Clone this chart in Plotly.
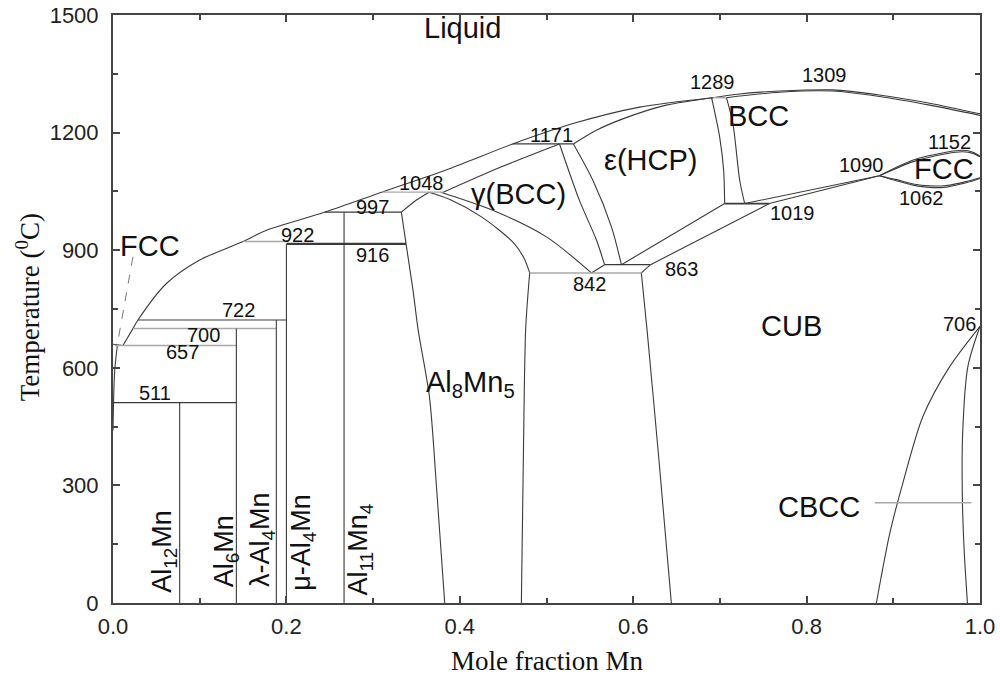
import plotly.graph_objects as go

# ---------------- data: phase boundaries (X = mole fraction Mn, T in deg C) ----------------
liq_al_x = [0.0, 0.0115]
liq_al_t = [660, 657]
liquidus_x = [0.0115, 0.023, 0.0288, 0.0616, 0.100, 0.150, 0.177, 0.244, 0.310, 0.388, 0.461, 0.5306, 0.6075, 0.692]
liquidus_t = [657, 700, 722, 815, 875, 922, 951, 997, 1048, 1108, 1171, 1223, 1265, 1289]
bcc_liq_x = [0.692, 0.720, 0.769, 0.830, 0.884, 0.942, 1.0]
bcc_liq_t = [1289, 1298, 1306, 1309, 1296, 1275, 1248]
bcc_sol_x = [0.7075, 0.769, 0.830, 0.884, 0.942, 1.0]
bcc_sol_t = [1289, 1303, 1306, 1292, 1270, 1244]
eps_sol_x = [0.531, 0.5575, 0.588, 0.638, 0.692]
eps_sol_t = [1171, 1206, 1235, 1270, 1289]
gam_sol_x = [0.381, 0.446, 0.515]
gam_sol_t = [1048, 1111, 1171]
al8_top_x = [0.3326, 0.350, 0.3645]
al8_top_t = [997, 1028, 1048]
al8_left_x = [0.3326, 0.338, 0.346, 0.352, 0.365, 0.373, 0.3826]
al8_left_t = [997, 916, 798, 696, 526, 300, 0]
al8_right_hi_x = [0.3645, 0.388, 0.425, 0.461, 0.474, 0.4806]
al8_right_hi_t = [1048, 1030, 985, 921, 880, 842]
al8_right_lo_x = [0.4806, 0.476, 0.4735, 0.471]
al8_right_lo_t = [842, 700, 400, 0]
gam_low_x = [0.378, 0.438, 0.500, 0.5518]
gam_low_t = [1048, 1002, 934, 842]
gam_eps_x = [0.515, 0.538, 0.5576, 0.567]
gam_eps_t = [1171, 1027, 926, 863]
eps_gam_x = [0.531, 0.5536, 0.575, 0.5864]
eps_gam_t = [1171, 1078, 959, 863]
gam_842_x = [0.567, 0.5518]
gam_842_t = [863, 842]
cub_842_x = [0.620, 0.6094]
cub_842_t = [863, 842]
cub_left_x = [0.6094, 0.616, 0.630, 0.644]
cub_left_t = [842, 696, 357, 0]
eps_low_x = [0.5864, 0.7055]
eps_low_t = [863, 1019]
cub_up_x = [0.620, 0.757]
cub_up_t = [863, 1019]
cub_1090_x = [0.757, 0.884]
cub_1090_t = [1019, 1090]
bcc_low_x = [0.7286, 0.884]
bcc_low_t = [1019, 1090]
eps_bcc_x = [0.6904, 0.6997, 0.7043, 0.7055]
eps_bcc_t = [1289, 1189, 1104, 1019]
bcc_eps_x = [0.7075, 0.715, 0.7228, 0.7286]
bcc_eps_t = [1289, 1223, 1079, 1019]
fcc_up_x = [0.884, 0.923, 0.961, 0.980, 0.992, 1.0]
fcc_up_out_t = [1090, 1130, 1150, 1155, 1150, 1140]
fcc_up_in_t = [1090, 1126, 1146, 1151, 1147, 1138]
fcc_lo_x = [0.884, 0.9036, 0.923, 0.942, 0.961, 0.984, 1.0]
fcc_lo_out_t = [1090, 1077, 1066, 1060, 1061, 1072, 1083]
fcc_lo_in_t = [1090, 1080, 1069, 1064, 1065, 1075, 1085]
cbcc_left_x = [1.0, 0.965, 0.934, 0.911, 0.896, 0.8805]
cbcc_left_t = [706, 603, 475, 306, 178, 0]
cbcc_right_x = [1.0, 0.986, 0.980, 0.9797, 0.9817, 0.9855]
cbcc_right_t = [706, 603, 433, 263, 136, 0]
al_solvus_x = [0.005, 0.002, 0.0008, 0.0]
al_solvus_t = [657, 594, 526, 440]

# invariant (horizontal) reactions
inv_t = [1289, 1171, 1048, 997, 922, 916, 722, 700, 657, 511, 863, 842, 1019]
inv_x0 = [0.692, 0.461, 0.310, 0.244, 0.150, 0.200, 0.0288, 0.023, 0.002, 0.0, 0.567, 0.4806, 0.7055]
inv_x1 = [0.7075, 0.531, 0.381, 0.3326, 0.200, 0.338, 0.200, 0.1884, 0.1423, 0.1423, 0.620, 0.6094, 0.757]
inv_gray = [True, False, True, False, True, False, False, True, True, False, False, True, False]
inv_width = [1.5, 1.2, 1.3, 1.2, 1.5, 2.2, 1.2, 1.5, 1.5, 1.2, 1.2, 1.5, 1.8]

# stoichiometric compounds (vertical lines)
comp_x = [0.0769, 0.1423, 0.1884, 0.200, 0.2665]
comp_top = [511, 700, 722, 916, 997]

# pointer lines
fcc_ptr_x = [0.023, 0.005]
fcc_ptr_t = [883, 660]
cbcc_ptr_x = [0.8785, 0.99]
cbcc_ptr_t = [256, 256]

# labels
region_labels = ["Liquid", "BCC", "ε(HCP)", "γ(BCC)", "FCC", "FCC", "CUB", "CBCC", "Al<sub>8</sub>Mn<sub>5</sub>"]
region_x = [0.4026, 0.744, 0.620, 0.468, 0.958, 0.0423, 0.7826, 0.8148, 0.4126]
region_t = [1466, 1242, 1129, 1043, 1106, 910, 706, 244, 558]

vert_labels = ["Al<sub>12</sub>Mn", "Al<sub>6</sub>Mn", "λ-Al<sub>4</sub>Mn", "μ-Al<sub>4</sub>Mn", "Al<sub>11</sub>Mn<sub>4</sub>"]
vert_x = [0.0588, 0.1300, 0.1720, 0.2190, 0.2846]
vert_t = [133, 131, 161, 156, 136]

num_labels = ["997", "1048", "922", "916", "722", "700", "657", "511", "1171", "1289", "1309",
              "1152", "1090", "1062", "1019", "842", "863", "706"]
num_x = [0.2995, 0.356, 0.213, 0.2995, 0.145, 0.104, 0.0807, 0.048, 0.5057, 0.692, 0.821,
         0.965, 0.863, 0.932, 0.784, 0.550, 0.6556, 0.9766]
num_t = [1011, 1071, 938, 887, 747, 684, 641, 535, 1193, 1329, 1348,
         1176, 1117, 1032, 994, 815, 853, 713]

# ---------------- figure ----------------
DARK = "#3a3a3a"
GRAY = "#a8a8a8"
fig = go.Figure()


def add(x, t, color=DARK, width=1.1, spline=True, dash="solid"):
    fig.add_trace(go.Scatter(
        x=x, y=t, mode="lines", hoverinfo="skip", showlegend=False,
        line=dict(color=color, width=width, dash=dash,
                  shape="spline" if spline else "linear", smoothing=0.8)))


curves = [
    (liq_al_x, liq_al_t), (liquidus_x, liquidus_t), (bcc_liq_x, bcc_liq_t), (bcc_sol_x, bcc_sol_t),
    (eps_sol_x, eps_sol_t), (gam_sol_x, gam_sol_t), (al8_top_x, al8_top_t), (al8_left_x, al8_left_t),
    (al8_right_hi_x, al8_right_hi_t), (al8_right_lo_x, al8_right_lo_t), (gam_low_x, gam_low_t),
    (gam_eps_x, gam_eps_t), (eps_gam_x, eps_gam_t), (gam_842_x, gam_842_t), (cub_842_x, cub_842_t),
    (cub_left_x, cub_left_t), (eps_low_x, eps_low_t), (cub_up_x, cub_up_t), (cub_1090_x, cub_1090_t),
    (bcc_low_x, bcc_low_t), (eps_bcc_x, eps_bcc_t), (bcc_eps_x, bcc_eps_t),
    (fcc_up_x, fcc_up_out_t), (fcc_up_x, fcc_up_in_t), (fcc_lo_x, fcc_lo_out_t), (fcc_lo_x, fcc_lo_in_t),
    (cbcc_left_x, cbcc_left_t), (cbcc_right_x, cbcc_right_t), (al_solvus_x, al_solvus_t),
]
for cx, ct in curves:
    add(cx, ct)

for t, x0, x1, g, w in zip(inv_t, inv_x0, inv_x1, inv_gray, inv_width):
    add([x0, x1], [t, t], color=GRAY if g else DARK, width=w, spline=False)

for cx, top in zip(comp_x, comp_top):
    add([cx, cx], [0, top], color=DARK, width=1.1, spline=False)

add(fcc_ptr_x, fcc_ptr_t, color="#777", width=1, spline=False, dash="dash")
add(cbcc_ptr_x, cbcc_ptr_t, color=GRAY, width=1.5, spline=False)

SANS = "Liberation Sans, Arial, sans-serif"
SERIF = "Liberation Serif, Times New Roman, serif"

for txt, x, t in zip(region_labels, region_x, region_t):
    fig.add_annotation(x=x, y=t, text=txt, showarrow=False, xanchor="center", yanchor="middle",
                       font=dict(family=SANS, size=29, color="#111"))
for txt, x, t in zip(vert_labels, vert_x, vert_t):
    fig.add_annotation(x=x, y=t, text=txt, showarrow=False, textangle=-90,
                       xanchor="center", yanchor="middle",
                       font=dict(family=SANS, size=27, color="#111"))
for txt, x, t in zip(num_labels, num_x, num_t):
    fig.add_annotation(x=x, y=t, text=txt, showarrow=False, xanchor="center", yanchor="middle",
                       font=dict(family=SANS, size=20, color="#111"))

# axis titles
fig.add_annotation(xref="paper", yref="paper", x=0.5, y=-0.098, text="Mole fraction Mn",
                   showarrow=False, xanchor="center", yanchor="middle",
                   font=dict(family=SERIF, size=27, color="#111"))
fig.add_annotation(xref="paper", yref="paper", x=-0.098, y=0.503, text="Temperature (<sup>0</sup>C)",
                   showarrow=False, textangle=-90, xanchor="center", yanchor="middle",
                   font=dict(family=SERIF, size=27, color="#111"))

axis_common = dict(showgrid=False, zeroline=False, showline=True, linecolor="#444", linewidth=2,
                   mirror="ticks", ticks="inside", tickcolor="#444", tickwidth=1.5, ticklen=7,
                   automargin=False,
                   tickfont=dict(family=SANS, size=22, color="#222"))
fig.update_xaxes(range=[0, 1], tickvals=[0, 0.2, 0.4, 0.6, 0.8, 1.0],
                 ticktext=["0.0", "0.2", "0.4", "0.6", "0.8", "1.0"],
                 ticklabelstandoff=3,
                 minor=dict(ticks="inside", ticklen=5, tickcolor="#444", dtick=0.1, tick0=0),
                 **axis_common)
fig.update_yaxes(range=[0, 1500], tickvals=[0, 300, 600, 900, 1200, 1500],
                 ticklabelstandoff=8,
                 minor=dict(ticks="inside", ticklen=5, tickcolor="#444", dtick=150, tick0=0),
                 **axis_common)

fig.update_layout(width=1000, height=678, margin=dict(l=113, r=20, t=15, b=75),
                  paper_bgcolor="white", plot_bgcolor="white")

fig.write_html("out.html")
